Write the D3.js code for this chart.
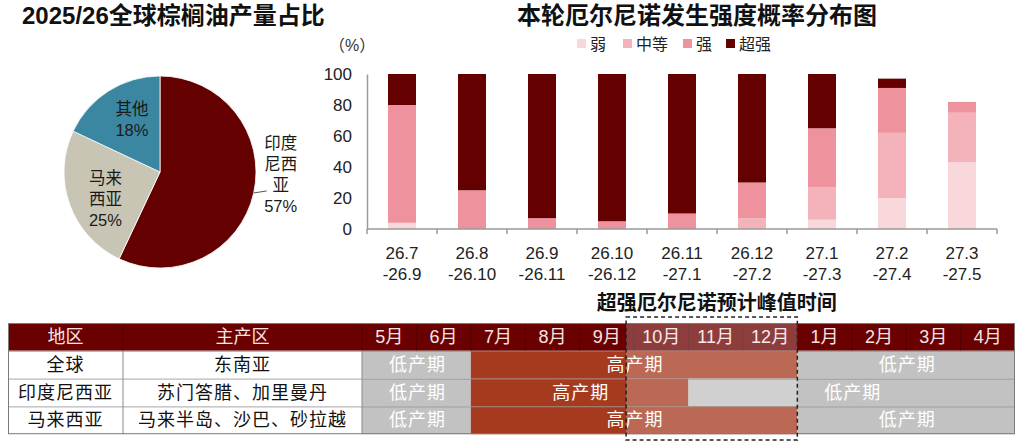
<!DOCTYPE html>
<html><head><meta charset="utf-8">
<script src="https://cdn.jsdelivr.net/npm/d3@7/dist/d3.min.js"></script>
<style>
html,body{margin:0;padding:0;background:#fff;}
svg{display:block;font-family:"Liberation Sans",Arial,"Noto Sans CJK SC",sans-serif;}
</style></head>
<body>
<svg id="c" width="1024" height="442"></svg>
<script>
// ---- Pie data ----
const pieLabels = [["印度","尼西","亚","57%"], ["马来","西亚","25%"], ["其他","18%"]];
const pieNames = ["印度尼西亚","马来西亚","其他"];
const pieValues = [57, 25, 18];
const pieColors = ["#650000", "#c8c5b5", "#3b87a2"];

// ---- Bar data ----
const barCategories = [["26.7","-26.9"],["26.8","-26.10"],["26.9","-26.11"],["26.10","-26.12"],["26.11","-27.1"],["26.12","-27.2"],["27.1","-27.3"],["27.2","-27.4"],["27.3","-27.5"]];
const seriesNames = ["弱","中等","强","超强"];
const weak     = [4, 0, 0, 0, 0, 0, 6, 20, 43];
const moderate = [0, 0, 0, 0, 0, 7, 21, 42, 32];
const strong   = [76, 25, 7, 5, 10, 23, 38, 29, 7];
const extreme  = [20, 75, 93, 95, 90, 70, 35, 6, 0];
const seriesColors = ["#f9d8dc", "#f4b3bb", "#ee939e", "#650000"];
const yTicks = [0, 20, 40, 60, 80, 100];

// ---- Table data ----
const months = ["5月","6月","7月","8月","9月","10月","11月","12月","1月","2月","3月","4月"];
const tableHeader = ["地区","主产区"];
const regions = ["全球","印度尼西亚","马来西亚"];
const producers = ["东南亚","苏门答腊、加里曼丹","马来半岛、沙巴、砂拉越"];
const periodsGlobal    = [["低产期",0,2,"low"],["高产期",2,8,"high"],["低产期",8,12,"low"]];
const periodsIndonesia = [["低产期",0,2,"low"],["高产期",2,6,"high"],["低产期",6,12,"low"]];
const periodsMalaysia  = [["低产期",0,2,"low"],["高产期",2,8,"high"],["低产期",8,12,"low"]];
const peakWindow = ["10月","12月"];
const peakTitle = "超强厄尔尼诺预计峰值时间";

const svg = d3.select("#c");

// ================= PIE =================
svg.append("text").attr("x", 22).attr("y", 24).attr("font-size", 24).attr("font-weight", "bold")
  .attr("fill", "#111").text("2025/26全球棕榈油产量占比");

const cx = 160, cy = 172, R = 96;
const pie = d3.pie().sort(null).value(d => d)(pieValues);
const arc = d3.arc().innerRadius(0).outerRadius(R);
const pg = svg.append("g").attr("transform", `translate(${cx},${cy})`);
pg.selectAll("path").data(pie).join("path")
  .attr("d", arc).attr("fill", (d, i) => pieColors[i]).attr("stroke", "#fff").attr("stroke-width", 0.8);

const labArc = d3.arc().innerRadius(58).outerRadius(58);
pie.forEach((d, i) => {
  const lines = pieLabels[i];
  const lh = 21;
  let px, py;
  if (i === 0) {
    const a = (d.startAngle + d.endAngle) / 2;
    const ex = Math.sin(a) * R, ey = -Math.cos(a) * R;
    pg.append("line").attr("x1", ex).attr("y1", ey).attr("x2", ex + 13).attr("y2", ey - 2)
      .attr("stroke", "#555").attr("stroke-width", 1);
    px = ex + 27; py = ey - 18;
  } else {
    [px, py] = labArc.centroid(d);
    if (i === 2) { px += 3; py -= 4; }
    if (i === 1) { py += 7; }
  }
  const t = pg.append("text").attr("text-anchor", "middle").attr("font-size", 16.5).attr("fill", "#1a1a1a");
  lines.forEach((s, k) => {
    t.append("tspan").attr("x", px).attr("y", py + (k - (lines.length - 1) / 2) * lh + 6).text(s);
  });
});

// ================= BAR =================
svg.append("text").attr("x", 697).attr("y", 24).attr("text-anchor", "middle").attr("font-size", 24)
  .attr("font-weight", "bold").attr("fill", "#111").text("本轮厄尔尼诺发生强度概率分布图");
svg.append("text").attr("x", 329).attr("y", 51).attr("font-size", 16).attr("fill", "#333").text("（%）");

const x = d3.scaleBand().domain(d3.range(barCategories.length)).range([367, 997]).paddingInner(0.6).paddingOuter(0.3);
const y = d3.scaleLinear().domain([0, 100]).range([229, 74]);

const table = barCategories.map((c, i) => ({i, "弱": weak[i], "中等": moderate[i], "强": strong[i], "超强": extreme[i]}));
const stacked = d3.stack().keys(seriesNames)(table);
const bg = svg.append("g");
stacked.forEach((s, k) => {
  bg.append("g").selectAll("rect").data(s).join("rect")
    .attr("x", d => x(d.data.i)).attr("width", x.bandwidth())
    .attr("y", d => y(d[1])).attr("height", d => Math.max(0, y(d[0]) - y(d[1])))
    .attr("fill", seriesColors[k]);
});

// y axis
const yAxis = svg.append("g").attr("transform", "translate(367,0)")
  .call(d3.axisLeft(y).tickValues(yTicks).tickSize(0).tickPadding(15));
yAxis.select(".domain").attr("stroke", "#9a9a9a").attr("stroke-width", 1.5);
yAxis.selectAll("text").attr("font-size", 17).attr("fill", "#222").attr("font-family", null);

// x axis (ticks at band boundaries)
const xb = d3.scaleLinear().domain([0, barCategories.length]).range([367, 997]);
const xAxis = svg.append("g").attr("transform", "translate(0,229)");
xAxis.append("line").attr("x1", 367).attr("x2", 997).attr("y1", 0).attr("y2", 0).attr("stroke", "#9a9a9a").attr("stroke-width", 1.5);
xAxis.selectAll("line.tk").data(d3.range(barCategories.length + 1)).join("line").attr("class", "tk")
  .attr("x1", d => xb(d)).attr("x2", d => xb(d)).attr("y1", 0).attr("y2", 5).attr("stroke", "#9a9a9a").attr("stroke-width", 1.5);
barCategories.forEach((c, i) => {
  const t = xAxis.append("text").attr("text-anchor", "middle").attr("font-size", 17).attr("fill", "#222");
  c.forEach((s, k) => t.append("tspan").attr("x", x(i) + x.bandwidth() / 2).attr("y", 30 + k * 21).text(s));
});

// legend
const legX = [577, 623, 683, 726];
seriesNames.forEach((n, k) => {
  svg.append("rect").attr("x", legX[k]).attr("y", 39).attr("width", 9).attr("height", 9).attr("fill", seriesColors[k]);
  svg.append("text").attr("x", legX[k] + 13).attr("y", 50).attr("font-size", 16).attr("fill", "#222").text(n);
});

// ================= TABLE =================
const tTop = 323, rowH = 27.8, tLeft = 8, c1 = 123, c2 = 362, tRight = 1015;
const mx = d3.scaleLinear().domain([0, months.length]).range([c2, tRight]);
const rowY = r => tTop + rowH * r;
const tg = svg.append("g");
const colorOf = {low: "#c2c2c2", high: "#a63a1f"};

// header
tg.append("rect").attr("x", tLeft).attr("y", tTop).attr("width", tRight - tLeft).attr("height", rowH).attr("fill", "#6b0000");
const hdrCenters = [(tLeft + c1) / 2, (c1 + c2) / 2];
tableHeader.forEach((h, i) => tg.append("text").attr("x", hdrCenters[i]).attr("y", tTop + 20).attr("text-anchor", "middle")
  .attr("font-size", 18).attr("fill", "#f6e4e4").text(h));
months.forEach((m, i) => tg.append("text").attr("x", mx(i + 0.5)).attr("y", tTop + 20).attr("text-anchor", "middle")
  .attr("font-size", 18).attr("fill", "#f6e4e4").text(m));
[c1, c2].concat(d3.range(1, months.length).map(i => mx(i))).forEach(xx =>
  tg.append("line").attr("x1", xx).attr("x2", xx).attr("y1", tTop).attr("y2", tTop + rowH).attr("stroke", "#520000").attr("stroke-width", 1));

// body rows
const allPeriods = [periodsGlobal, periodsIndonesia, periodsMalaysia];
regions.forEach((r, ri) => {
  const yy = rowY(ri + 1);
  tg.append("rect").attr("x", tLeft).attr("y", yy).attr("width", c2 - tLeft).attr("height", rowH).attr("fill", "#fff");
  tg.append("text").attr("x", (tLeft + c1) / 2).attr("y", yy + 20).attr("text-anchor", "middle").attr("font-size", 18)
    .attr("letter-spacing", 1).attr("fill", "#111").text(r);
  tg.append("text").attr("x", (c1 + c2) / 2).attr("y", yy + 20).attr("text-anchor", "middle").attr("font-size", 18)
    .attr("letter-spacing", 1).attr("fill", "#111").text(producers[ri]);
  allPeriods[ri].forEach(([lab, s, e, type]) => {
    tg.append("rect").attr("x", mx(s)).attr("y", yy).attr("width", mx(e) - mx(s)).attr("height", rowH).attr("fill", colorOf[type]);
  });
});

// peak window overlay
const pS = months.indexOf(peakWindow[0]), pE = months.indexOf(peakWindow[1]) + 1;
const bx0 = mx(pS) - 8, bx1 = mx(pE);
tg.append("rect").attr("x", bx0).attr("y", tTop).attr("width", bx1 - bx0).attr("height", rowH * 4)
  .attr("fill", "#fff").attr("opacity", 0.24);

// period labels
regions.forEach((r, ri) => {
  const yy = rowY(ri + 1);
  allPeriods[ri].forEach(([lab, s, e]) => {
    tg.append("text").attr("x", (mx(s) + mx(e)) / 2 + 1).attr("y", yy + 20).attr("text-anchor", "middle")
      .attr("font-size", 18).attr("letter-spacing", 1).attr("fill", "#fff").text(lab);
  });
});

// grid lines
d3.range(1, 4).forEach(r => tg.append("line").attr("x1", tLeft).attr("x2", tRight).attr("y1", rowY(r) + 0.5).attr("y2", rowY(r) + 0.5)
  .attr("stroke", "#8a8a8a").attr("stroke-width", 1).attr("opacity", 0.75));
[c1, c2].forEach(xx => tg.append("line").attr("x1", xx).attr("x2", xx).attr("y1", rowY(1)).attr("y2", rowY(4))
  .attr("stroke", "#8a8a8a").attr("stroke-width", 1));
tg.append("rect").attr("x", tLeft + 0.5).attr("y", tTop + 0.5).attr("width", tRight - tLeft - 1).attr("height", rowH * 4 - 1)
  .attr("fill", "none").attr("stroke", "#7a7a7a").attr("stroke-width", 1);

// dashed box + title
tg.append("rect").attr("x", bx0).attr("y", 317).attr("width", bx1 - bx0).attr("height", 123)
  .attr("fill", "none").attr("stroke", "#222").attr("stroke-width", 1.5).attr("stroke-dasharray", "4,3");
svg.append("text").attr("x", (bx0 + bx1) / 2 + 5).attr("y", 310).attr("text-anchor", "middle").attr("font-size", 20)
  .attr("font-weight", "bold").attr("fill", "#111").text(peakTitle);
</script>
</body></html>
